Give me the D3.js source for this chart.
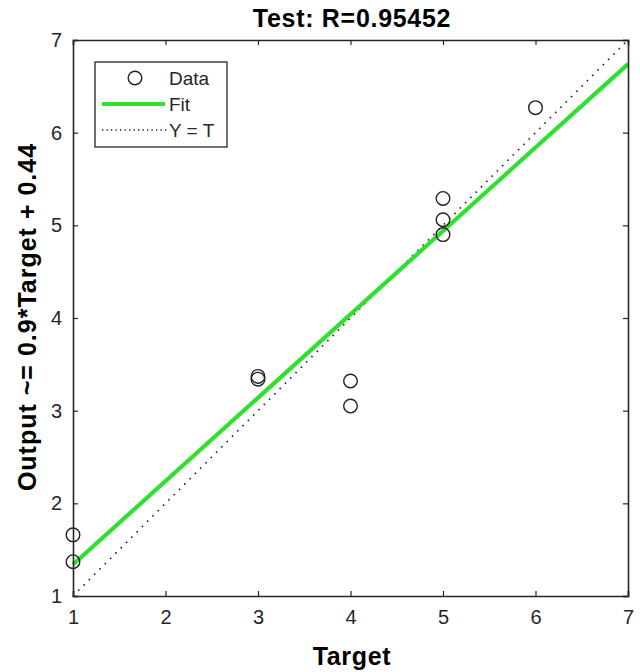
<!DOCTYPE html>
<html><head><meta charset="utf-8">
<script src="https://cdn.jsdelivr.net/npm/d3@7"></script>
<style>body{margin:0;background:#fff}svg{display:block}</style>
</head><body>
<svg id="c" width="640" height="672"></svg>
<script>
const targets = [1, 1, 3, 3, 4, 4, 5, 5, 5, 6];
const outputs = [1.66, 1.37, 3.34, 3.37, 3.32, 3.05, 5.29, 5.06, 4.90, 6.27];
const fitSlope = 0.9, fitIntercept = 0.44;
const ticks = [1, 2, 3, 4, 5, 6, 7];
const titleText = "Test: R=0.95452";
const xLabel = "Target";
const yLabel = "Output ~= 0.9*Target + 0.44";
const legendLabels = ["Data", "Fit", "Y = T"];

const svg = d3.select("#c");
const L = 73, R = 628, T = 40, B = 596;
const x = d3.scaleLinear().domain([1, 7]).range([L, R]);
const y = d3.scaleLinear().domain([1, 7]).range([B, T]);
const font = "'Liberation Sans', Arial, sans-serif";
const axisCol = "#262626";

// Y = T line
svg.append("line")
  .attr("x1", x(1)).attr("y1", y(1)).attr("x2", x(7)).attr("y2", y(7))
  .attr("stroke", "#222").attr("stroke-width", 1.7).attr("stroke-dasharray", "1.5,6");

// Fit line
svg.append("line")
  .attr("x1", x(1)).attr("y1", y(fitSlope * 1 + fitIntercept))
  .attr("x2", x(7)).attr("y2", y(fitSlope * 7 + fitIntercept))
  .attr("stroke", "#2fe02f").attr("stroke-width", 4.2);

// Data points
svg.selectAll("circle.d").data(targets).join("circle").attr("class", "d")
  .attr("cx", d => x(d)).attr("cy", (d, i) => y(outputs[i])).attr("r", 6.8)
  .attr("fill", "none").attr("stroke", "#222").attr("stroke-width", 1.4);

// Axes box with inside ticks
const axB = d3.axisBottom(x).tickValues(ticks).tickSize(-5).tickPadding(14).tickFormat(d3.format("d"));
const axT = d3.axisTop(x).tickValues(ticks).tickSize(-5).tickFormat("");
const axL = d3.axisLeft(y).tickValues(ticks).tickSize(-5).tickPadding(11).tickFormat(d3.format("d"));
const axR = d3.axisRight(y).tickValues(ticks).tickSize(-5).tickFormat("");
function style(g) {
  g.selectAll("path").attr("stroke", axisCol).attr("stroke-width", 1.6);
  g.selectAll("line").attr("stroke", axisCol).attr("stroke-width", 1.2);
  g.selectAll("text").attr("font-family", font).attr("font-size", 20).attr("fill", "#262626");
}
svg.append("g").attr("transform", `translate(0,${B})`).call(axB).call(style);
svg.append("g").attr("transform", `translate(0,${T})`).call(axT).call(style);
svg.append("g").attr("transform", `translate(${L},0)`).call(axL).call(style);
svg.append("g").attr("transform", `translate(${R},0)`).call(axR).call(style);

// Title and labels
svg.append("text").attr("x", 352).attr("y", 27).attr("text-anchor", "middle")
  .attr("font-family", font).attr("font-weight", "bold").attr("font-size", 25)
  .attr("letter-spacing", 0.7).text(titleText);
svg.append("text").attr("x", 352).attr("y", 665).attr("text-anchor", "middle")
  .attr("font-family", font).attr("font-weight", "bold").attr("font-size", 25)
  .attr("letter-spacing", 0.7).text(xLabel);
svg.append("text").attr("transform", "translate(36,317) rotate(-90)").attr("text-anchor", "middle")
  .attr("font-family", font).attr("font-weight", "bold").attr("font-size", 25)
  .attr("letter-spacing", 1).text(yLabel);

// Legend
const lg = svg.append("g");
lg.append("rect").attr("x", 95).attr("y", 62).attr("width", 132).attr("height", 85)
  .attr("fill", "#fff").attr("stroke", axisCol).attr("stroke-width", 1.3);
const rowY = [78, 104, 130];
lg.append("circle").attr("cx", 135).attr("cy", rowY[0]).attr("r", 6.8)
  .attr("fill", "none").attr("stroke", "#222").attr("stroke-width", 1.4);
lg.append("line").attr("x1", 102).attr("x2", 165).attr("y1", rowY[1]).attr("y2", rowY[1])
  .attr("stroke", "#2fe02f").attr("stroke-width", 4.2);
lg.append("line").attr("x1", 102).attr("x2", 168).attr("y1", rowY[2]).attr("y2", rowY[2])
  .attr("stroke", "#222").attr("stroke-width", 1.3).attr("stroke-dasharray", "1.3,3.2");
lg.selectAll("text.l").data(legendLabels).join("text").attr("class", "l")
  .attr("x", 169).attr("y", (d, i) => rowY[i] + 7)
  .attr("font-family", font).attr("font-size", 19).attr("fill", "#262626").text(d => d);
</script>
</body></html>
